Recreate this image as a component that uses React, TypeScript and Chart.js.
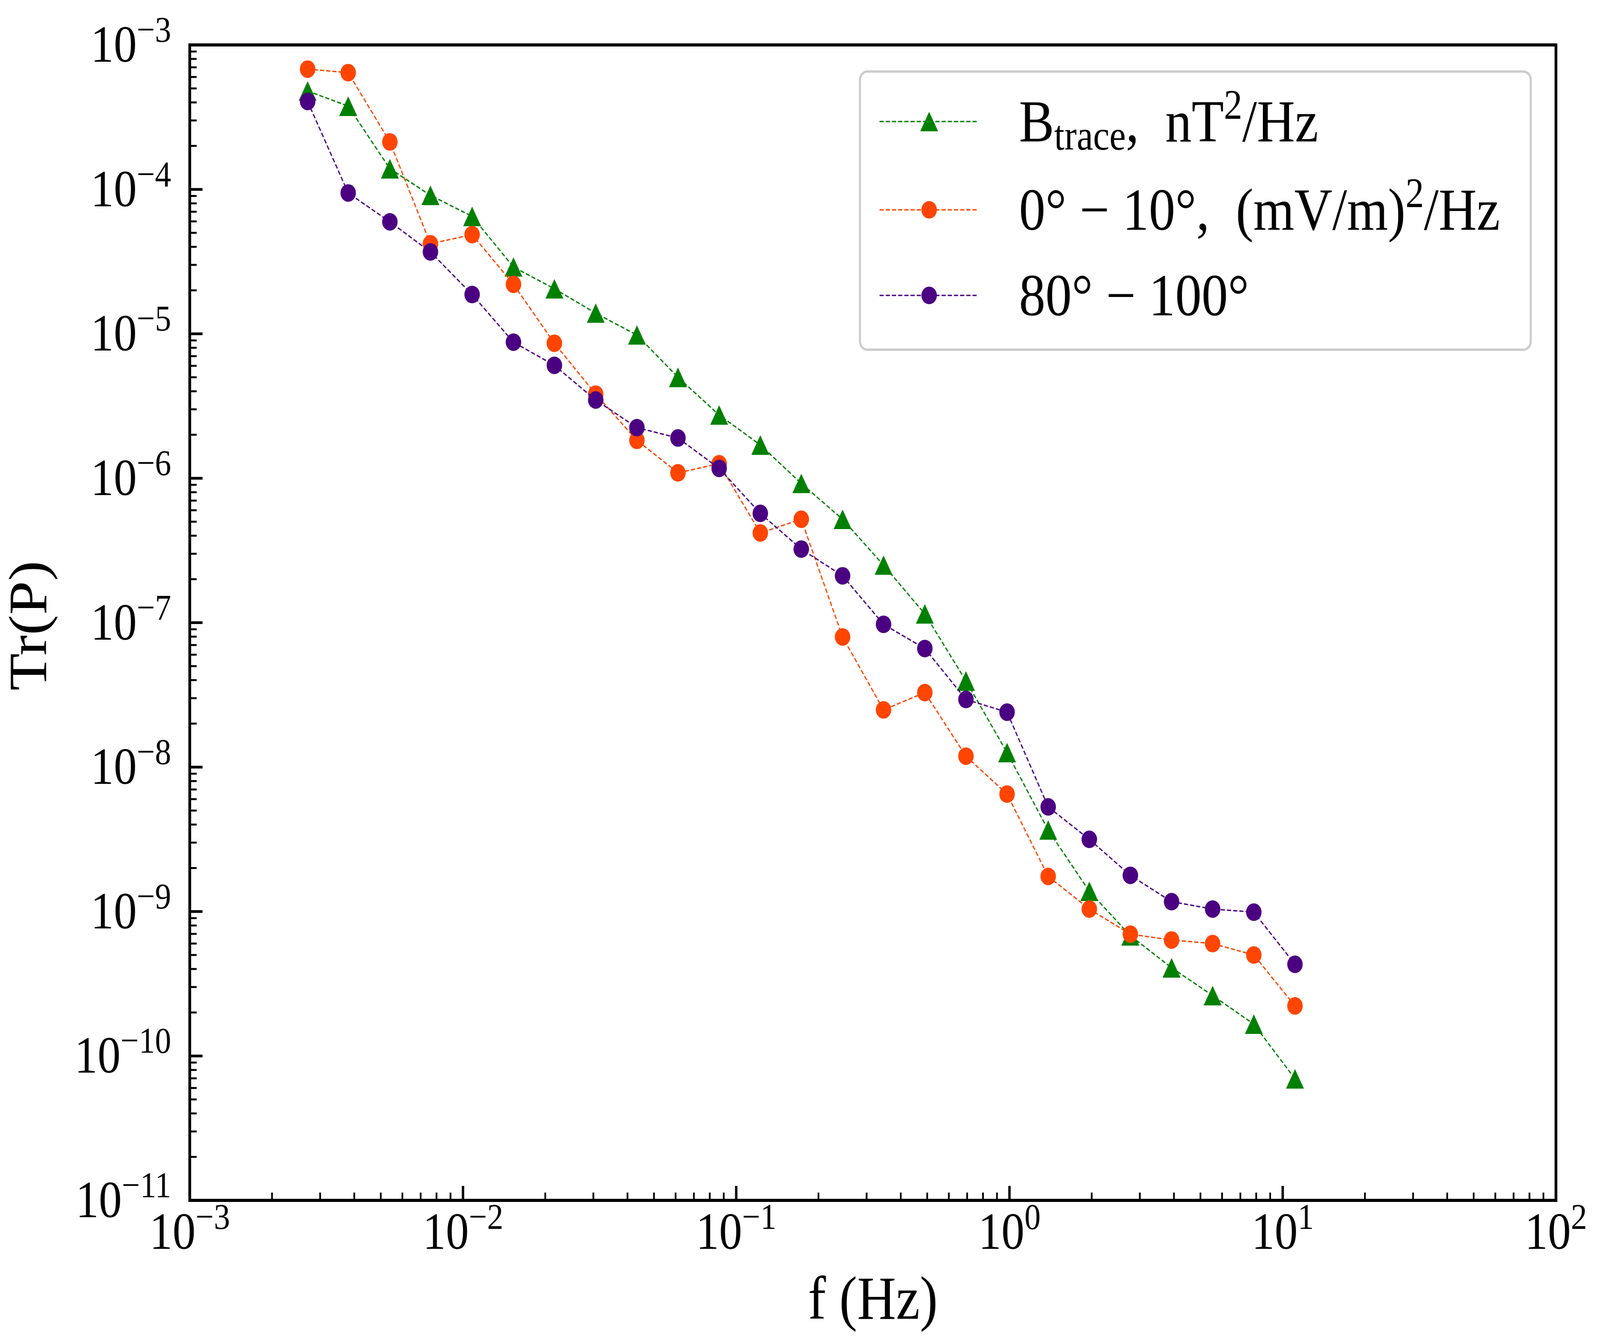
import { useEffect, useRef, useState } from 'react';
import { Chart, registerables } from 'chart.js';

Chart.register(...registerables);

// frequency bins (Hz)
const freqs = [
  0.0027, 0.0038, 0.0054, 0.0076, 0.0108, 0.0153, 0.0216, 0.0306, 0.0433,
  0.0612, 0.0866, 0.1225, 0.173, 0.245, 0.346, 0.49, 0.693, 0.98, 1.386,
  1.96, 2.77, 3.92, 5.54, 7.84, 11.09,
];

// B trace, nT^2/Hz
const bTrace = [
  4.8e-4, 3.77e-4, 1.39e-4, 9.1e-5, 6.5e-5, 2.9e-5, 2.05e-5, 1.39e-5, 9.8e-6,
  5.0e-6, 2.74e-6, 1.7e-6, 9.2e-7, 5.2e-7, 2.5e-7, 1.15e-7, 3.95e-8, 1.26e-8,
  3.66e-9, 1.38e-9, 6.8e-10, 4.08e-10, 2.62e-10, 1.66e-10, 6.95e-11,
];

// 0° - 10°, (mV/m)^2/Hz
const e0to10 = [
  6.8e-4, 6.43e-4, 2.13e-4, 4.2e-5, 4.86e-5, 2.2e-5, 8.6e-6, 3.82e-6, 1.83e-6,
  1.09e-6, 1.26e-6, 4.18e-7, 5.2e-7, 7.96e-8, 2.49e-8, 3.28e-8, 1.19e-8, 6.5e-9,
  1.75e-9, 1.04e-9, 6.97e-10, 6.35e-10, 6.0e-10, 5.0e-10, 2.22e-10,
];

// 80° - 100°
const e80to100 = [
  4.06e-4, 9.44e-5, 5.96e-5, 3.69e-5, 1.87e-5, 8.75e-6, 6.05e-6, 3.48e-6,
  2.24e-6, 1.9e-6, 1.17e-6, 5.71e-7, 3.23e-7, 2.11e-7, 9.74e-8, 6.62e-8,
  2.94e-8, 2.4e-8, 5.3e-9, 3.16e-9, 1.78e-9, 1.17e-9, 1.04e-9, 9.9e-10,
  4.31e-10,
];

// tick label exponents
const xTickExps = [-3, -2, -1, 0, 1, 2];
const yTickExps = [-3, -4, -5, -6, -7, -8, -9, -10, -11];

// legend labels: [text, 'n' | 'sub' | 'sup']
const legendLabels: [string, string][][] = [
  [['B', 'n'], ['trace', 'sub'], [',  nT', 'n'], ['2', 'sup'], ['/Hz', 'n']],
  [['0° − 10°,  (mV/m)', 'n'], ['2', 'sup'], ['/Hz', 'n']],
  [['80° − 100°', 'n']],
];

const W = 4646;
const H = 3437;
const FONT = '"Liberation Serif", "DejaVu Serif", serif';
const GREEN = '#008000';
const ORANGE = '#ff4500';
const PURPLE = '#4b0082';

function makeTriangle(color: string) {
  const c = document.createElement('canvas');
  c.width = 52;
  c.height = 50;
  const g = c.getContext('2d')!;
  g.fillStyle = color;
  g.beginPath();
  g.moveTo(26, 0);
  g.lineTo(52, 50);
  g.lineTo(0, 50);
  g.closePath();
  g.fill();
  return c;
}

function drawPower(ctx: CanvasRenderingContext2D, x: number, y: number, exp: number, size: number, align: string) {
  const base = '10';
  const sup = (exp < 0 ? '−' : '') + Math.abs(exp);
  ctx.font = `${size}px ${FONT}`;
  const wb = ctx.measureText(base).width;
  ctx.font = `${size * 0.7}px ${FONT}`;
  const ws = ctx.measureText(sup).width;
  const total = wb + ws;
  const x0 = align === 'right' ? x - total : x - total / 2;
  ctx.textAlign = 'left';
  ctx.textBaseline = 'alphabetic';
  ctx.font = `${size}px ${FONT}`;
  ctx.fillText(base, x0, y);
  ctx.font = `${size * 0.7}px ${FONT}`;
  ctx.fillText(sup, x0 + wb, y - size * 0.38);
}

function drawRich(ctx: CanvasRenderingContext2D, x: number, y: number, parts: [string, string][], size: number) {
  let cx = x;
  ctx.textAlign = 'left';
  ctx.textBaseline = 'alphabetic';
  for (const [t, mode] of parts) {
    const s = mode === 'n' ? size : size * 0.7;
    const dy = mode === 'sub' ? size * 0.14 : mode === 'sup' ? -size * 0.38 : 0;
    ctx.font = `${s}px ${FONT}`;
    ctx.fillText(t, cx, y + dy);
    cx += ctx.measureText(t).width;
  }
}

const axesPlugin = {
  id: 'axesPlugin',
  afterDraw(chart: any) {
    const { ctx, chartArea: a, scales } = chart;
    const xs = scales.x;
    const ys = scales.y;
    ctx.save();
    ctx.strokeStyle = '#000';
    ctx.fillStyle = '#000';
    ctx.setLineDash([]);

    const xTick = (v: number, len: number, w: number) => {
      const px = xs.getPixelForValue(v);
      ctx.lineWidth = w;
      ctx.beginPath();
      ctx.moveTo(px, a.bottom);
      ctx.lineTo(px, a.bottom - len);
      ctx.stroke();
    };
    const yTick = (v: number, len: number, w: number) => {
      const py = ys.getPixelForValue(v);
      ctx.lineWidth = w;
      ctx.beginPath();
      ctx.moveTo(a.left, py);
      ctx.lineTo(a.left + len, py);
      ctx.stroke();
    };

    xTickExps.forEach((e, i) => {
      xTick(Math.pow(10, e), 37, 7);
      if (i < xTickExps.length - 1) {
        for (let k = 2; k < 10; k++) xTick(k * Math.pow(10, e), 20, 5);
      }
    });
    yTickExps.forEach((e, i) => {
      yTick(Math.pow(10, e), 37, 7);
      if (i > 0) {
        for (let k = 2; k < 10; k++) yTick(k * Math.pow(10, e), 20, 5);
      }
    });

    ctx.lineWidth = 8;
    ctx.strokeRect(a.left, a.top, a.right - a.left, a.bottom - a.top);

    // tick labels
    xTickExps.forEach((e) => {
      drawPower(ctx, xs.getPixelForValue(Math.pow(10, e)), 3196, e, 134, 'center');
    });
    yTickExps.forEach((e) => {
      drawPower(ctx, 497, ys.getPixelForValue(Math.pow(10, e)) + 43, e, 134, 'right');
    });

    // axis titles
    ctx.font = `156px ${FONT}`;
    ctx.textAlign = 'center';
    ctx.textBaseline = 'alphabetic';
    ctx.fillText('f (Hz)', (a.left + a.right) / 2, 3375);
    ctx.save();
    ctx.translate(134, 1601);
    ctx.rotate(-Math.PI / 2);
    ctx.fillText('Tr(P)', 0, 0);
    ctx.restore();

    // legend
    ctx.fillStyle = '#fff';
    ctx.strokeStyle = '#cccccc';
    ctx.lineWidth = 6;
    ctx.beginPath();
    ctx.roundRect(2497, 183, 1948, 712, 22);
    ctx.fill();
    ctx.stroke();

    const rows = [311, 537, 756];
    chart.data.datasets.forEach((ds: any, i: number) => {
      const y = rows[i];
      ctx.strokeStyle = ds.borderColor;
      ctx.lineWidth = ds.borderWidth;
      ctx.setLineDash(ds.borderDash);
      ctx.beginPath();
      ctx.moveTo(2554, y);
      ctx.lineTo(2841, y);
      ctx.stroke();
      ctx.setLineDash([]);
      if (ds.pointStyle instanceof HTMLCanvasElement) {
        const img = ds.pointStyle;
        ctx.drawImage(img, 2698 - img.width / 2, y - img.height / 2);
      } else {
        ctx.fillStyle = ds.pointBackgroundColor;
        ctx.beginPath();
        ctx.arc(2698, y, ds.pointRadius, 0, Math.PI * 2);
        ctx.fill();
      }
      ctx.fillStyle = '#000';
      drawRich(ctx, 2959, y + 51, legendLabels[i], 153);
    });
    ctx.restore();
  },
};

export default function App() {
  const canvasRef = useRef<HTMLCanvasElement>(null);
  const chartRef = useRef<Chart | null>(null);
  // stretch the 4646x3437 drawing over the whole viewport
  const [fit] = useState(() => {
    const vw = window.innerWidth || W;
    const vh = window.innerHeight || H;
    return { sx: vw / W, sy: vh / H };
  });

  useEffect(() => {
    if (!canvasRef.current) return;
    document.body.style.margin = '0';
    document.body.style.overflow = 'hidden';
    if (chartRef.current) chartRef.current.destroy();

    const series = (vals: number[]) => freqs.map((f, i) => ({ x: f, y: vals[i] }));

    chartRef.current = new Chart(canvasRef.current, {
      type: 'line',
      data: {
        datasets: [
          {
            label: 'B trace',
            data: series(bTrace),
            borderColor: GREEN,
            backgroundColor: GREEN,
            borderWidth: 3.5,
            borderDash: [12, 6],
            pointStyle: makeTriangle(GREEN),
            pointRadius: 26,
            pointBackgroundColor: GREEN,
            pointBorderWidth: 0,
            order: 3,
          },
          {
            label: '0-10',
            data: series(e0to10),
            borderColor: ORANGE,
            backgroundColor: ORANGE,
            borderWidth: 3.5,
            borderDash: [12, 6],
            pointStyle: 'circle',
            pointRadius: 22.5,
            pointBackgroundColor: ORANGE,
            pointBorderWidth: 0,
            order: 2,
          },
          {
            label: '80-100',
            data: series(e80to100),
            borderColor: PURPLE,
            backgroundColor: PURPLE,
            borderWidth: 3.5,
            borderDash: [12, 6],
            pointStyle: 'circle',
            pointRadius: 22.5,
            pointBackgroundColor: PURPLE,
            pointBorderWidth: 0,
            order: 1,
          },
        ] as any,
      },
      options: {
        animation: false,
        responsive: false,
        devicePixelRatio: 1,
        layout: { padding: { left: 551, right: W - 4518, top: 115, bottom: H - 3072 } },
        scales: {
          x: { type: 'logarithmic', min: 1e-3, max: 1e2, display: false },
          y: { type: 'logarithmic', min: 1e-11, max: 1e-3, display: false },
        },
        plugins: {
          legend: { display: false },
          tooltip: { enabled: false },
        },
      },
      plugins: [axesPlugin],
    });

    return () => {
      if (chartRef.current) {
        chartRef.current.destroy();
        chartRef.current = null;
      }
    };
  }, []);

  return (
    <div style={{ width: W * fit.sx, height: H * fit.sy, overflow: 'hidden' }}>
      <div style={{ width: W, height: H, transform: `scale(${fit.sx}, ${fit.sy})`, transformOrigin: '0 0' }}>
        <canvas ref={canvasRef} width={W} height={H} style={{ display: 'block', width: W, height: H }} />
      </div>
    </div>
  );
}
